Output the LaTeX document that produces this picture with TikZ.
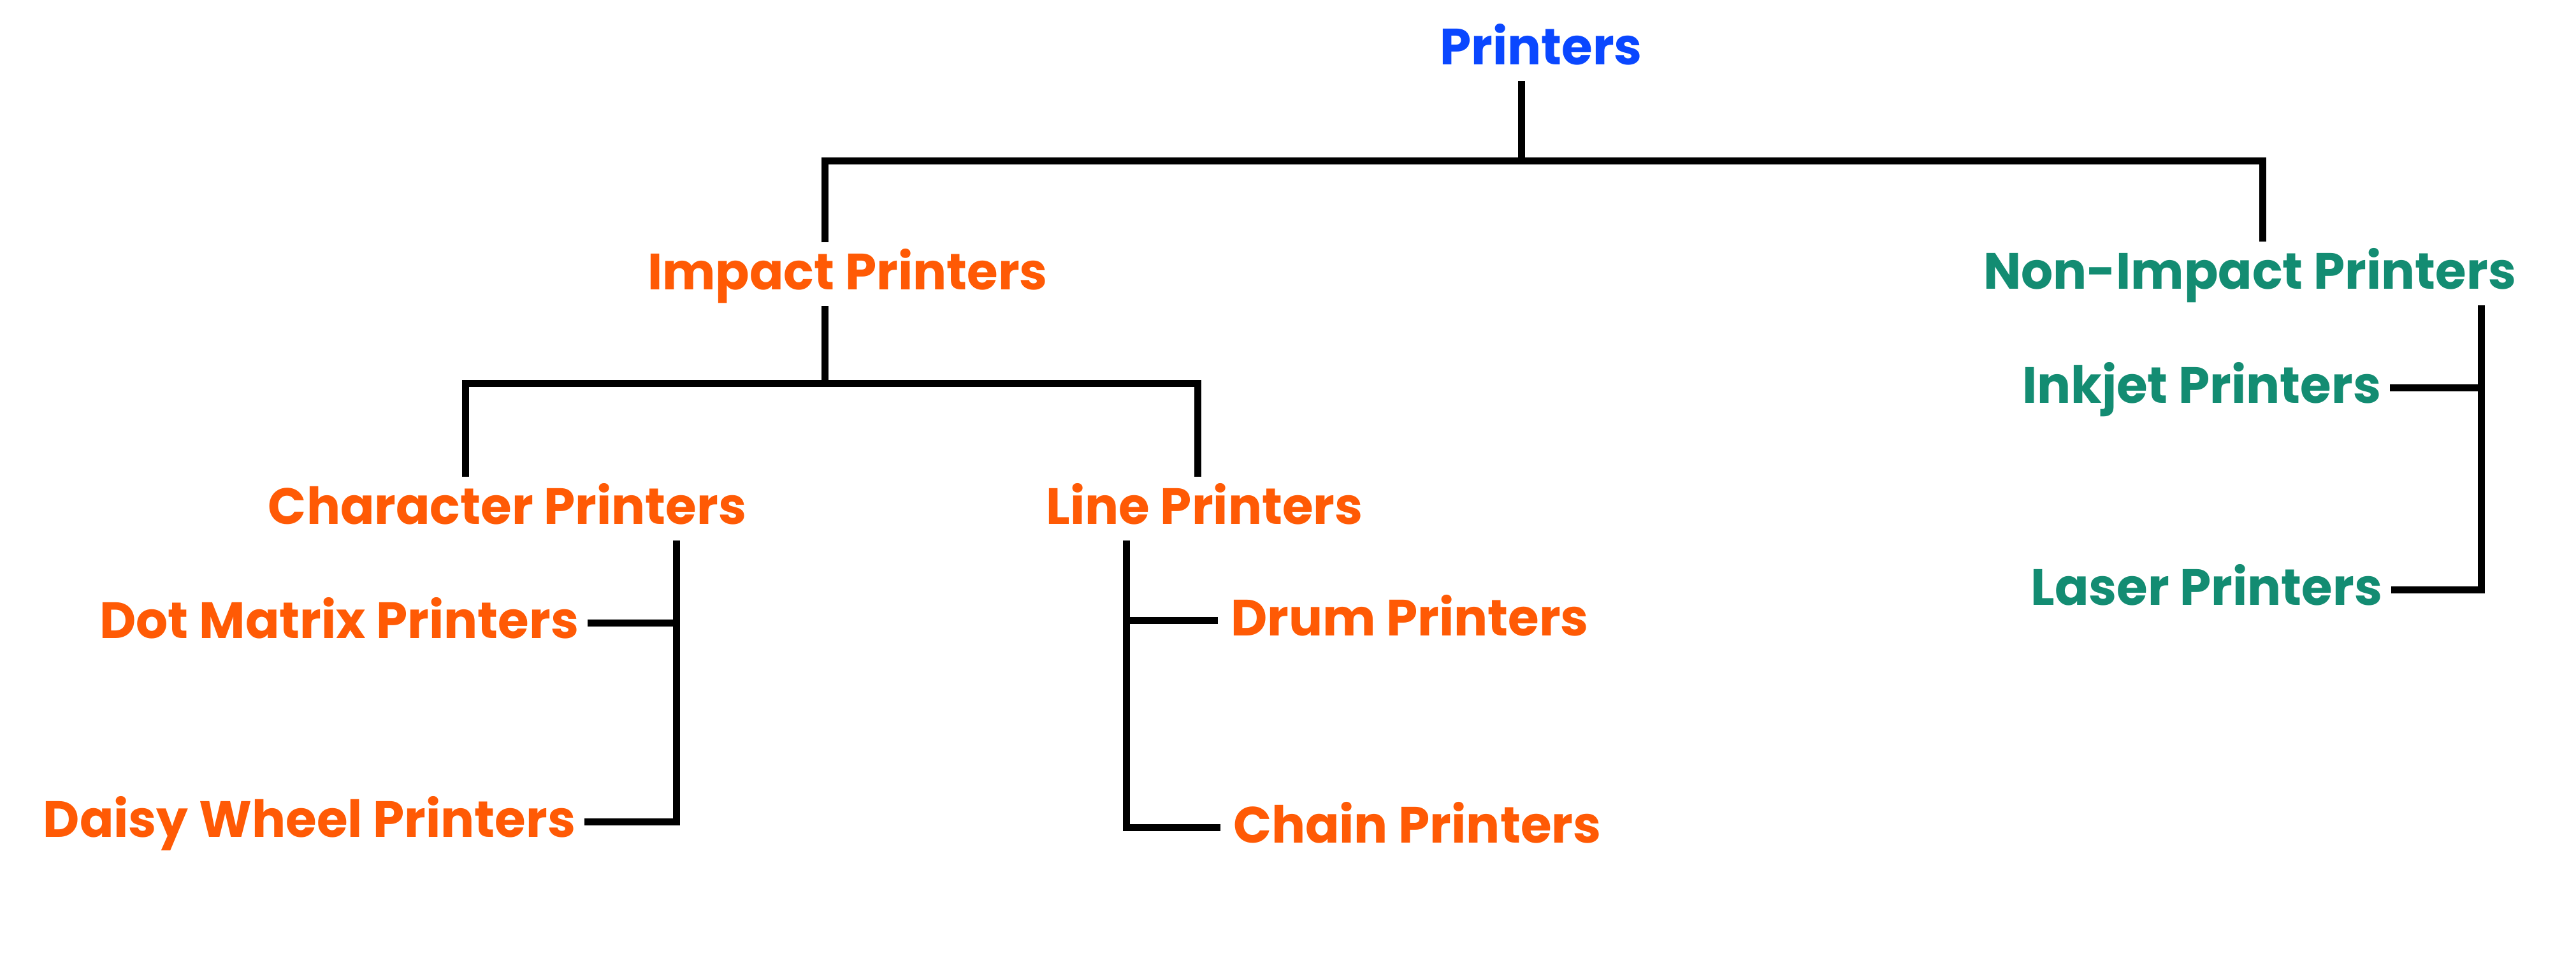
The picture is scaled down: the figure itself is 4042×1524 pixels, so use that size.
\documentclass[tikz,border=0pt]{standalone}
\usepackage{fontspec}
\setmainfont{Poppins}[FakeStretch=0.985]
\usepackage{tikz}
\definecolor{rootblue}{HTML}{0A47FF}
\definecolor{impactorange}{HTML}{FF5A05}
\definecolor{nonimpactgreen}{HTML}{138C72}
\newcommand{\linkwidth}{2.75pt}

\begin{document}
\begin{tikzpicture}[x=.25pt,y=-.25pt,
    lbl/.style={inner sep=0pt, outer xsep=3.5pt, outer ysep=4.5pt,
      text height=14pt, text depth=2pt, font=\fontsize{20}{24}\selectfont\bfseries},
    link/.style={line width=\linkwidth, line join=miter}]
    \useasboundingbox (0,0) rectangle (4042,1524);
    % top
        \node (printers) at (2418,101) [lbl, anchor=base, text=rootblue] {Printers};
        \node (impact) at (1330,454) [lbl, anchor=base, text=impactorange] {Impact Printers};
        \node (nonimpact) at (3530,453) [lbl, anchor=base, text=nonimpactgreen] {Non-Impact Printers};
    % impact side
        \node (character) at (796,822) [lbl, anchor=base, text=impactorange] {Character Printers};
        \node (line) at (1890,822) [lbl, anchor=base, text=impactorange] {Line Printers};
        \node (dotmatrix) at (922,1001) [lbl, anchor=base east, text=impactorange] {Dot Matrix Printers};
        \node (daisy) at (917,1313) [lbl, anchor=base east, text=impactorange] {Daisy Wheel Printers};
        \node (drum) at (1911,997) [lbl, anchor=base west, outer xsep=5pt, text=impactorange] {Drum Printers};
        \node (chain) at (1915,1322) [lbl, anchor=base west, outer xsep=5pt, text=impactorange] {Chain Printers};
    % non-impact side
        \node (inkjet) at (3750,632) [lbl, anchor=base east, text=nonimpactgreen] {Inkjet Printers};
        \node (laser) at (3752,949) [lbl, anchor=base east, text=nonimpactgreen] {Laser Printers};

        \coordinate (top) at (2387,252);
        \coordinate (mid) at (1294,601);
        \coordinate (charstem) at ([xshift=66.25pt]character.south);
        \coordinate (linestem) at ([xshift=-30.75pt]line.south);
        \coordinate (nistem) at ([xshift=90.75pt]nonimpact.south);

        \draw[link] (printers.south -| top) -- (top);
        \draw[link] ([xshift=-9pt]impact.north) |- (top) -| ([xshift=5pt]nonimpact.north);
        \draw[link] ([xshift=-9pt]impact.south) -- (mid);
        \draw[link] ([xshift=-16.5pt]character.north) |- (mid) -| ([xshift=-2.75pt]line.north);
        \draw[link] (charstem) |- (daisy.east)
        (dotmatrix.east) -- (dotmatrix.east -| charstem);
        \draw[link] (linestem) |- (chain.west)
        (drum.west) -- (drum.west -| linestem);
        \draw[link] (nistem) |- (laser.east)
        (inkjet.east) -- (inkjet.east -| nistem);
  \end{tikzpicture}
\end{document}
